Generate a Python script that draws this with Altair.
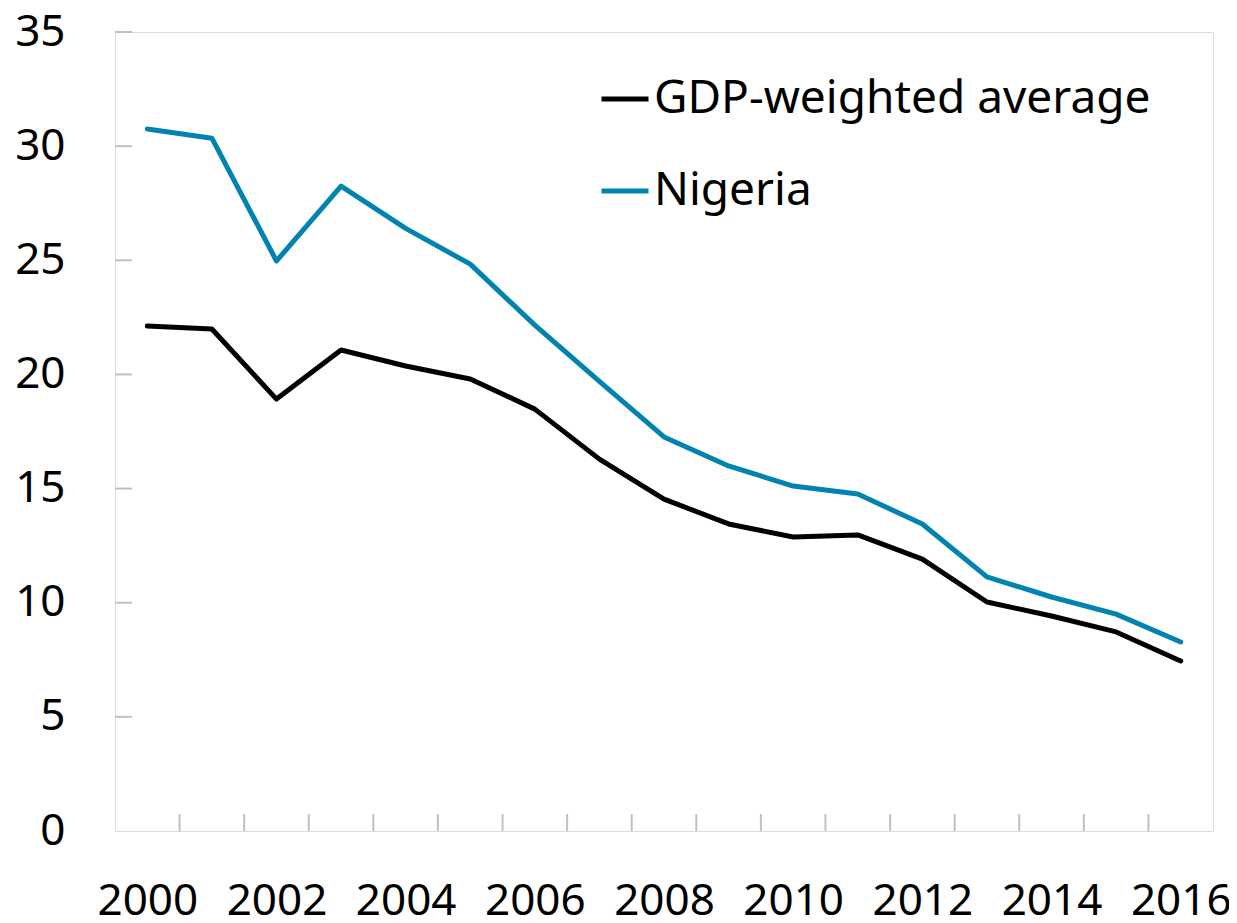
import altair as alt
import pandas as pd

years = list(range(2000, 2017))
gdp_weighted = [22.12, 21.99, 18.92, 21.07, 20.37, 19.80, 18.48, 16.29, 14.54, 13.45, 12.88, 12.97, 11.91, 10.03, 9.42, 8.72, 7.45]
nigeria = [30.75, 30.35, 24.97, 28.25, 26.40, 24.83, 22.16, 19.70, 17.26, 15.99, 15.11, 14.76, 13.45, 11.13, 10.25, 9.50, 8.28]
series_names = ["GDP-weighted average", "Nigeria"]
series_colors = ["#000000", "#0083b0"]
y_ticks = [0, 5, 10, 15, 20, 25, 30, 35]
x_label_years = [2000, 2002, 2004, 2006, 2008, 2010, 2012, 2014, 2016]
x_tick_bounds = [y + 0.5 for y in range(2000, 2016)]

df = pd.DataFrame(
    {"year": years * 2,
     "value": gdp_weighted + nigeria,
     "series": [series_names[0]] * len(years) + [series_names[1]] * len(years)}
)

W, H = 1098, 799
FONT = "Noto Sans"

xscale = alt.Scale(domain=[1999.5, 2016.5], nice=False, zero=False)
yscale = alt.Scale(domain=[0, 35], nice=False)

lines = alt.Chart(df).mark_line(strokeWidth=5, strokeCap="round", strokeJoin="round").encode(
    x=alt.X("year:Q", scale=xscale,
            axis=alt.Axis(values=x_label_years, format="d", ticks=False, domain=False, grid=False,
                          labelFontSize=44, labelFont=FONT, labelColor="#000000",
                          labelPadding=48, title=None, labelFlush=False)),
    y=alt.Y("value:Q", scale=yscale,
            axis=alt.Axis(values=y_ticks, ticks=False, domain=False, grid=False,
                          labelFontSize=44, labelFont=FONT, labelColor="#000000",
                          labelPadding=50, title=None)),
    color=alt.Color("series:N",
                    scale=alt.Scale(domain=series_names, range=series_colors),
                    legend=alt.Legend(title=None, orient="none", legendX=484, legendY=41,
                                      symbolType="stroke", symbolSize=2209, symbolStrokeWidth=5,
                                      labelFontSize=46, labelFont=FONT, labelColor="#000000",
                                      labelOffset=3, rowPadding=43, padding=0, symbolOffset=0,
                                      labelLimit=800)),
)

ydf = pd.DataFrame({"v": y_ticks[1:]})
yticks = alt.Chart(ydf).mark_rule(color="#c0c0c0", strokeWidth=2).encode(
    y=alt.Y("v:Q", scale=yscale),
    x=alt.value(0), x2=alt.value(17),
)

xdf = pd.DataFrame({"b": x_tick_bounds})
xticks = alt.Chart(xdf).mark_rule(color="#c0c0c0", strokeWidth=2).encode(
    x=alt.X("b:Q", scale=xscale),
    y=alt.value(H - 17), y2=alt.value(H),
)

chart = alt.layer(yticks, xticks, lines).properties(
    width=W, height=H,
    autosize=alt.AutoSizeParams(type="none"),
    padding={"left": 107, "top": 24, "right": 16, "bottom": 92},
).configure_view(stroke="#c0c0c0", strokeWidth=2).configure(background="white")

chart.save("out.html", embed_options={"renderer": "svg", "actions": False})
